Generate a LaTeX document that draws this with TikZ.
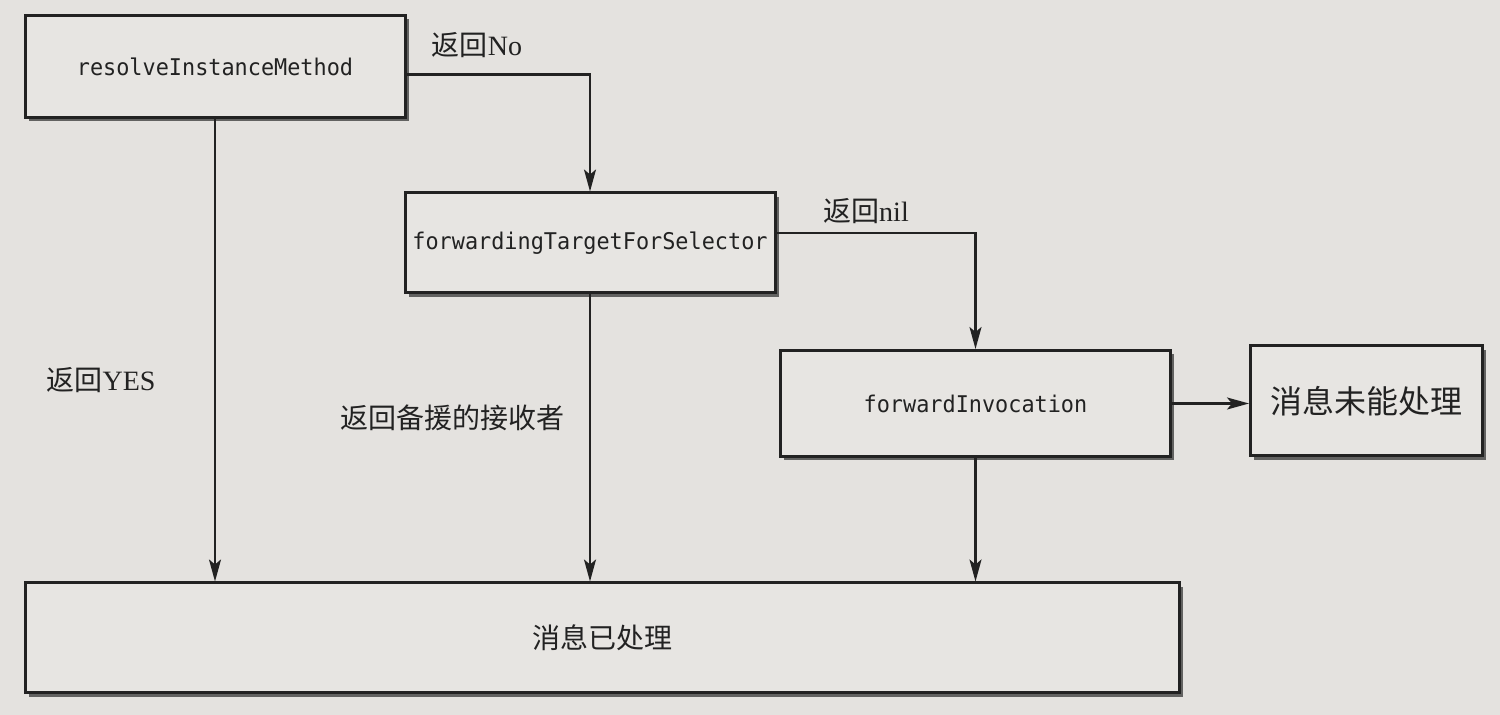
\documentclass[tikz,border=0pt]{standalone}
\usepackage{fontspec}
\setmainfont{Liberation Serif}
\newfontfamily\cjk{Noto Sans CJK SC}
\newfontfamily\monof[FakeStretch=0.95]{DejaVu Sans Mono}
\usetikzlibrary{arrows.meta,shadows}
\definecolor{paper}{HTML}{E4E2DF}
\definecolor{boxfill}{HTML}{E7E5E2}
\definecolor{ink}{HTML}{222222}
\begin{document}
\begin{tikzpicture}[x=0.5pt,y=-0.5pt,
  box/.style={draw=ink,line width=1.5pt,fill=boxfill,inner sep=0pt,
    drop shadow={shadow xshift=1.8pt,shadow yshift=-1.8pt,fill=black!70,opacity=0.85}},
  code/.style={font=\monof\fontsize{11.5pt}{13pt}\selectfont,text=ink},
  lbl/.style={font=\fontsize{14pt}{16pt}\selectfont,text=ink,inner sep=0pt},
  conn/.style={draw=ink,line width=1.1pt},
  arr/.style={conn,-{Stealth[length=11pt,width=6pt,inset=2.5pt]}}]
\fill[paper] (0,0) rectangle (1500,715);
\useasboundingbox (0,0) rectangle (1500,715);

\node[box,code,minimum width=190pt,minimum height=51pt] (rim) at (215,66.5) {resolveInstanceMethod};
\node[box,code,minimum width=185pt,minimum height=50pt] (ftfs) at (590,243) {forwardingTargetForSelector};
\node[box,code,minimum width=195pt,minimum height=53pt] (fi) at (975.5,403.5) {forwardInvocation};
\node[box,minimum width=116pt,minimum height=55pt,font=\cjk\fontsize{16pt}{18pt}\selectfont,text=ink] (fail) at (1366.5,401) {消息未能处理};
\node[box,minimum width=577pt,minimum height=55pt,font=\cjk\fontsize{14pt}{16pt}\selectfont,text=ink] (done) at (602.5,638) {消息已处理};

\draw[arr] ([yshift=-4pt]rim.east) -| (ftfs.north);
\draw[arr] ([yshift=5pt]ftfs.east) -| (fi.north);
\draw[arr] (fi.east) -- (fi.east -| fail.west);
\draw[arr] (rim.south) -- (rim.south |- done.north);
\draw[arr] (ftfs.south) -- (ftfs.south |- done.north);
\draw[arr] (fi.south) -- (fi.south |- done.north);

\node[lbl] (lno) at (477,45) {{\cjk 返回}No};
\node[lbl] (lnil) at (866,211) {{\cjk 返回}nil};
\node[lbl] (lyes) at (101,380) {{\cjk 返回}YES};
\node[lbl] (lbak) at (452,418) {\cjk 返回备援的接收者};
\end{tikzpicture}
\end{document}
